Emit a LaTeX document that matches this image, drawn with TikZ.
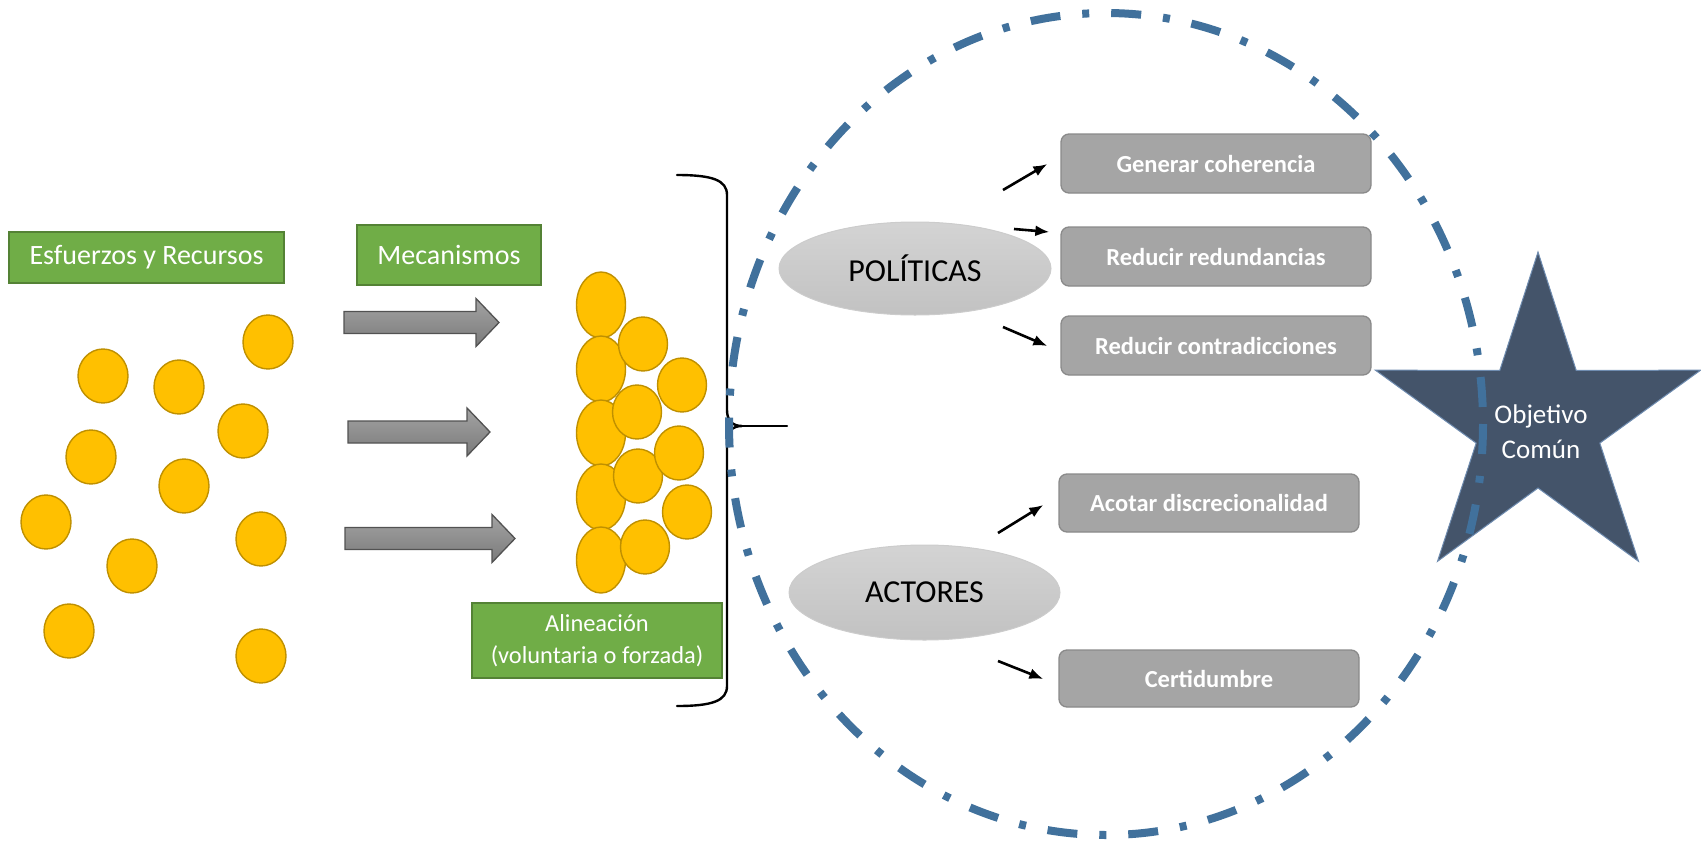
\documentclass[tikz,border=0pt]{standalone}
\usepackage{fontspec}
\setmainfont{Carlito}
\usetikzlibrary{arrows.meta,shapes.geometric,calc}

\definecolor{leaf}{HTML}{70AD47}
\definecolor{leafedge}{HTML}{548235}
\definecolor{coin}{HTML}{FFC000}
\definecolor{coinedge}{HTML}{BF9000}
\definecolor{slate}{HTML}{44546A}
\definecolor{slateedge}{HTML}{6F8CB0}
\definecolor{ring}{HTML}{41719C}
\definecolor{boxgray}{HTML}{A5A5A5}
\definecolor{boxedge}{HTML}{8A8A8A}

\tikzset{
  greenbox/.style={draw=leafedge, fill=leaf, line width=1.2pt, text=white,
    inner sep=0pt, align=center},
  coinshape/.style={draw=coinedge, fill=coin, line width=1.4pt},
  fatarrow/.style={draw=black!68, line width=1.3pt, line join=miter,
    top color=black!36, bottom color=black!52},
  bubble/.style={ellipse, draw=black!20, line width=1pt, top color=black!17,
    bottom color=black!24, inner sep=0pt, font=\fontsize{32}{38}\selectfont},
  graybox/.style={draw=boxedge, fill=boxgray, line width=1.3pt,
    rounded corners=8pt, text=white, inner sep=0pt,
    font=\fontsize{24.5}{30}\selectfont\bfseries},
  pointer/.style={line width=2.6pt, -{Latex[length=14pt,width=11pt]}},
  bracket/.style={line width=2.4pt, line cap=round},
  dashring/.style={draw=ring, line width=8pt,
    dash pattern=on 30pt off 22pt on 7pt off 22pt},
}

% horizontal block arrow: start x, tip x, centre y
\newcommand\bigarrow[3]{%
  \draw[fatarrow] (#1,#3-11) -- (#2-23,#3-11) -- (#2-23,#3-24) -- (#2,#3)
    -- (#2-23,#3+24) -- (#2-23,#3+11) -- (#1,#3+11) -- cycle;}

\begin{document}
\begin{tikzpicture}[x=1pt,y=-1pt]
\useasboundingbox (0,0) rectangle (1701,841);

% labels of the left part
\node[greenbox, minimum width=275pt, minimum height=51pt,
  font=\fontsize{28}{34}\selectfont] (esf) at (146.5,257.5) {Esfuerzos y Recursos};
\node[greenbox, minimum width=184pt, minimum height=60pt,
  font=\fontsize{28}{34}\selectfont] (mec) at (449,255) {Mecanismos};
\node[greenbox, minimum width=250pt, minimum height=75pt,
  font=\fontsize{24.4}{32}\selectfont] (ali) at (597,640.5)
  {Alineación\\(voluntaria o forzada)};

% scattered resources
\foreach \px/\py in {268/342, 103/376, 179/387, 243/431, 91/457, 184/486,
                     46/522, 261/539, 132/566, 69/631, 261/656}
  \draw[coinshape] (\px,\py) ellipse (25 and 27);

% mechanisms
\bigarrow{344}{499}{322.5}
\bigarrow{348}{490}{432}
\bigarrow{345}{515}{538.5}

% aligned resources
\foreach \py in {305, 369, 433, 497, 560}
  \draw[coinshape] (601,\py) ellipse (24.5 and 33);
\foreach \px/\py in {643/344, 637/412, 638/476, 645/547,
                     682/385, 679/453, 687/512}
  \draw[coinshape] (\px,\py) ellipse (24.5 and 27);

% brace gathering the aligned resources
\coordinate (btop) at (677,175);
\coordinate (bbot) at (677,706);
\coordinate (btip) at (742,426);
\coordinate (btail) at (787,426);
\draw[bracket] (btop) .. controls (712,175) and (727,180) .. (727,195)
  -- (727,410) .. controls (727,420) and (732,426) .. (btip)
  .. controls (732,426) and (727,432) .. (727,442)
  -- (727,686) .. controls (727,701) and (712,706) .. (bbot);
\draw[bracket] (btip) -- (btail);

% common goal
\coordinate (goal) at (1538,423);
\fill[slate] ($(goal)+(-90:171)$)
  \foreach \k in {1,...,9} { -- ($(goal)+({-90+36*\k}:{ifthenelse(mod(\k,2)==0,171,65)})$) }
  -- cycle;
\draw[slateedge, line width=1pt, line join=miter] ($(goal)+(-90:171)$)
  \foreach \k in {1,...,9} { -- ($(goal)+({-90+36*\k}:{ifthenelse(mod(\k,2)==0,171,65)})$) }
  -- cycle;
\node[text=white, align=center, font=\fontsize{27}{35}\selectfont] (obj)
  at (1541,432) {Objetivo\\Común};

% policies and actors
\node[bubble, minimum width=272pt, minimum height=93pt] (pol) at (915,268.5) {POLÍTICAS};
\node[bubble, minimum width=271pt, minimum height=95pt] (act) at (924.5,592.5) {ACTORES};

\node[graybox, minimum width=310pt, minimum height=59pt] (gen) at (1216,163.5) {Generar coherencia};
\node[graybox, minimum width=310pt, minimum height=59pt] (red) at (1216,256.5) {Reducir redundancias};
\node[graybox, minimum width=310pt, minimum height=59pt] (con) at (1216,345.5) {Reducir contradicciones};
\node[graybox, minimum width=300pt, minimum height=58pt] (aco) at (1209,503) {Acotar discrecionalidad};
\node[graybox, minimum width=300pt, minimum height=57pt] (cer) at (1209,678.5) {Certidumbre};

\coordinate (p1) at (1003,190);
\coordinate (p2) at (1014,229);
\coordinate (p3) at (1003,327);
\coordinate (a1) at (998,533);
\coordinate (a2) at (998,661);
\draw[pointer] (p1) -- ($(gen.west)+(-13,0.5)$);
\draw[pointer] (p2) -- ($(red.west)+(-11,-24.5)$);
\draw[pointer] (p3) -- ($(con.west)+(-13,0.5)$);
\draw[pointer] (a1) -- ($(aco.west)+(-15,2)$);
\draw[pointer] (a2) -- ($(cer.west)+(-15,0.5)$);

% dash-dotted boundary
\draw[dashring] (1106,424) ellipse (377 and 411);
\end{tikzpicture}
\end{document}
